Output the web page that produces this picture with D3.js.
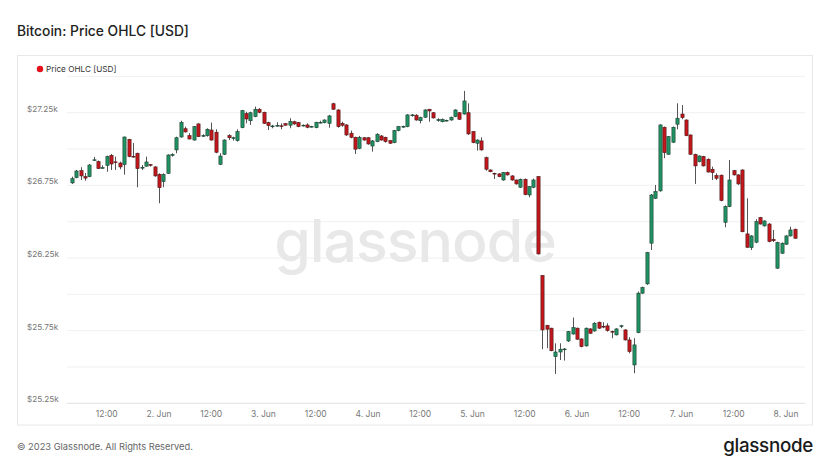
<!DOCTYPE html>
<html><head><meta charset="utf-8">
<script src="https://cdn.jsdelivr.net/npm/d3@7"></script>
<style>body{margin:0;background:#fff;font-family:Inter,"Noto Sans",sans-serif}</style>
</head><body><svg id="c" width="832" height="468"></svg>
<script>
// Hourly candles starting 2023-06-01 04:00 UTC
const startHour = Date.UTC(2023, 5, 1, 4);
const open = [26767,26803,26851,26810,26810,26922,26913,26868,26888,26957,26912,26904,26893,27067,26950,26971,26870,26882,26893,26877,
26826,26776,26833,26957,26994,27083,27140,27092,27062,27173,27090,27092,27131,27116,26895,26964,27092,27075,27058,27147,
27244,27195,27223,27274,27253,27182,27155,27160,27160,27175,27164,27188,27182,27160,27166,27152,27147,27180,27182,27177,
27312,27269,27177,27166,27109,27081,27005,27078,27078,27021,27051,27090,27081,27058,27044,27127,27152,27154,27232,27233,
27195,27219,27274,27250,27198,27188,27194,27200,27223,27250,27241,27250,27120,27040,27056,26941,26856,26833,26829,26787,
26838,26815,26787,26737,26792,26684,26737,26810,26129,25787,25767,25571,25603,25620,25679,25727,25767,25693,25645,25762,
25748,25808,25780,25783,25745,25721,25780,25755,25686,25514,25736,26008,26072,26352,26661,26712,27150,26964,27047,27171,
27241,27200,27097,26964,26913,26948,26930,26861,26817,26820,26496,26604,26851,26822,26856,26416,26321,26359,26528,26471,
26484,26379,26180,26283,26345,26402,26448];
const high = [26810,26856,26875,26835,26897,26946,26921,26888,26954,26966,26948,26913,27085,27070,27042,26975,26890,26948,26897,26882,
26833,26833,26964,26971,27085,27195,27154,27109,27159,27177,27102,27143,27182,27136,26971,27067,27102,27085,27136,27269,
27257,27257,27292,27281,27257,27188,27166,27184,27177,27177,27212,27195,27186,27170,27177,27160,27188,27195,27204,27235,
27319,27274,27188,27171,27127,27085,27090,27083,27081,27062,27109,27097,27085,27062,27131,27159,27161,27240,27241,27240,
27223,27274,27276,27255,27212,27210,27202,27223,27274,27255,27400,27315,27124,27067,27081,26948,26860,26837,26833,26842,
26845,26820,26790,26797,26797,26745,26796,26815,26133,25790,25770,25663,25663,25630,25748,25840,25771,25697,25771,25767,
25808,25812,25808,25801,25750,25767,25790,25760,25705,25698,26019,26053,26292,26690,26753,27170,27155,27090,27155,27315,
27303,27204,27100,26968,26957,26953,26935,26879,26833,26825,26612,26925,26856,26826,26860,26661,26407,26517,26533,26510,
26490,26443,26362,26357,26407,26466,26452];
const low = [26760,26799,26787,26782,26806,26918,26863,26865,26844,26856,26856,26861,26824,26943,26941,26737,26856,26879,26879,26810,
26627,26737,26829,26948,26971,27078,27113,27067,27058,27083,27085,27085,27058,26971,26890,26959,27062,27058,27051,27143,
27177,27166,27219,27246,27173,27131,27143,27154,27136,27161,27143,27166,27150,27155,27143,27148,27143,27177,27177,27147,
27269,27147,27154,27090,27074,26966,26999,27058,27030,26982,27047,27058,27044,27035,27040,27122,27147,27150,27223,27195,
27177,27214,27188,27210,27188,27184,27190,27195,27219,27200,27237,27097,27040,26989,26989,26851,26840,26794,26806,26782,
26817,26782,26755,26733,26682,26668,26730,26274,25622,25629,25608,25452,25548,25544,25672,25722,25686,25635,25640,25728,
25743,25762,25767,25743,25698,25717,25767,25682,25594,25457,25732,26003,26065,26305,26656,26707,26937,26960,27042,27136,
27205,27088,26960,26760,26908,26880,26838,26787,26787,26640,26462,26600,26818,26753,26427,26320,26305,26352,26480,26466,
26358,26360,26175,26278,26340,26398,26382];
const close = [26796,26849,26815,26800,26890,26926,26865,26872,26950,26897,26908,26877,27083,26948,26945,26865,26874,26911,26890,26815,
26734,26824,26959,26962,27078,27184,27118,27069,27154,27085,27093,27136,27062,26978,26952,27062,27078,27078,27120,27264,
27207,27250,27274,27253,27177,27161,27159,27163,27157,27164,27191,27173,27154,27164,27150,27156,27184,27184,27200,27228,
27274,27154,27164,27097,27081,26999,27081,27062,27035,27056,27102,27062,27051,27040,27127,27154,27156,27235,27235,27200,
27216,27269,27262,27214,27202,27205,27198,27219,27269,27205,27331,27104,27044,27062,26994,26861,26844,26830,26810,26838,
26822,26787,26760,26792,26686,26741,26787,26278,25755,25760,25612,25603,25622,25624,25743,25771,25691,25640,25767,25732,
25801,25767,25776,25750,25741,25762,25784,25686,25606,25652,26008,26046,26287,26684,26707,27166,26975,27085,27150,27212,
27216,27092,26964,26884,26952,26884,26842,26838,26799,26645,26604,26787,26822,26760,26431,26324,26402,26500,26484,26505,
26363,26369,26356,26352,26402,26443,26386];
const yTicks = [25250,25500,25750,26000,26250,26500,26750,27000,27250,27500];
const yLabelTicks = [25250,25750,26250,26750,27250];
const xTickHours = [12,0];

const data = open.map((o,i)=>({t:new Date(startHour + i*3600000), o, h:high[i], l:low[i], c:close[i]}));

const svg = d3.select("#c");
const plotL = 67, plotR = 805, plotT = 76.4, plotB = 403.3;

// title
svg.append("text").attr("x",17).attr("y",31).attr("dominant-baseline","central")
  .attr("font-size",13.8).attr("font-weight",500).attr("fill","#222").text("Bitcoin: Price OHLC [USD]");
// panel
svg.append("rect").attr("x",17.5).attr("y",55.5).attr("width",795).attr("height",369.5)
  .attr("fill","none").attr("stroke","#e8e8e8");
// legend
svg.append("circle").attr("cx",40).attr("cy",69).attr("r",3.2).attr("fill","#e3101a");
svg.append("text").attr("x",46).attr("y",69).attr("dominant-baseline","central")
  .attr("font-size",8.2).attr("fill","#333").text("Price OHLC [USD]");

const x = d3.scaleUtc().domain([new Date(Date.UTC(2023,5,2)), new Date(Date.UTC(2023,5,8))]).range([159,786]);
const y = d3.scaleLinear().domain([25250,27500]).range([plotB, plotT]);

// gridlines
svg.append("g").selectAll("line").data(yTicks).join("line")
  .attr("x1",plotL).attr("x2",plotR).attr("y1",d=>y(d)).attr("y2",d=>y(d))
  .attr("stroke",d=>d===25250?"#e0e0e0":"#f0f0f0").attr("stroke-width",1);
// y labels
svg.append("g").selectAll("text").data(yLabelTicks).join("text")
  .attr("x",27).attr("y",d=>y(d)-4).attr("dominant-baseline","central")
  .attr("font-size",8.2).attr("fill","#777").text(d=>"$"+(d/1000).toFixed(2)+"k");

// x ticks
const allTicks = d3.utcHour.every(12).range(new Date(Date.UTC(2023,5,1,6)), new Date(Date.UTC(2023,5,8,3)));
svg.append("g").selectAll("text").data(allTicks.filter(d=>xTickHours.includes(d.getUTCHours()) && x(d)>plotL+10 && x(d)<plotR)).join("text")
  .attr("x",d=>x(d)).attr("y",414).attr("text-anchor","middle").attr("dominant-baseline","central")
  .attr("font-size",8.5).attr("fill","#777")
  .text(d=>d.getUTCHours()===12?"12:00":d.getUTCDate()+". Jun");

// watermark
svg.append("text").attr("x",415).attr("y",262).attr("text-anchor","middle")
  .attr("font-size",59).attr("font-weight",500).attr("fill","#e8e8e8").attr("letter-spacing",-1).text("glassnode");

// candles
const bw = 3.2;
const g = svg.append("g");
const cg = g.selectAll("g").data(data).join("g");
cg.append("line").attr("x1",d=>Math.round(x(d.t))+0.5).attr("x2",d=>Math.round(x(d.t))+0.5)
  .attr("y1",d=>y(d.h)).attr("y2",d=>y(d.l)).attr("stroke","#555").attr("stroke-width",1);
cg.append("rect").attr("x",d=>Math.round(x(d.t))+0.5-bw/2).attr("width",bw)
  .attr("y",d=>y(Math.max(d.o,d.c))).attr("height",d=>Math.max(0.8,Math.abs(y(d.o)-y(d.c))))
  .attr("fill",d=>d.c>=d.o?"#1e9363":"#c4161c")
  .attr("stroke",d=>d.c>=d.o?"#1f3d30":"#4a1a1a").attr("stroke-width",0.6);

// footer
svg.append("text").attr("x",17).attr("y",446).attr("dominant-baseline","central")
  .attr("font-size",9.3).attr("fill","#666").text("© 2023 Glassnode. All Rights Reserved.");
svg.append("text").attr("x",813).attr("y",445).attr("text-anchor","end").attr("dominant-baseline","central")
  .attr("font-size",18.8).attr("font-weight",500).attr("fill","#1a1a1a").attr("letter-spacing",-0.3).text("glassnode");
</script></body></html>
